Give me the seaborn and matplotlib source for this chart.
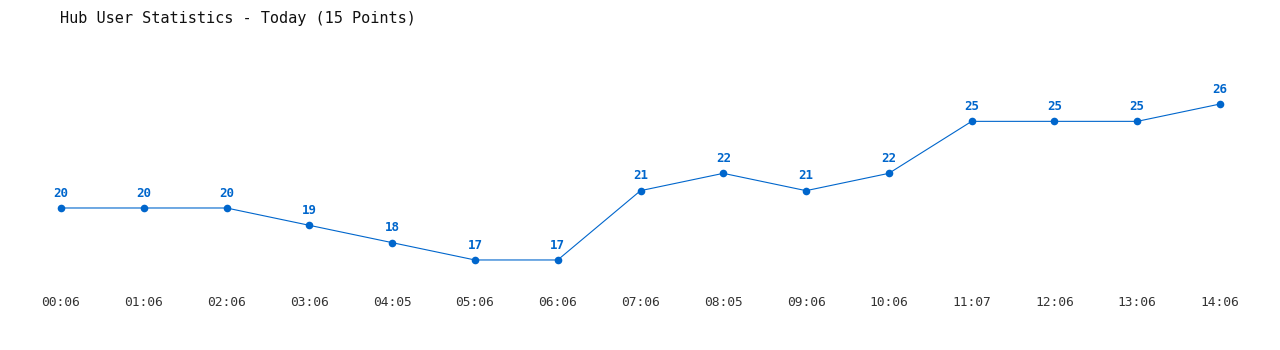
import matplotlib
matplotlib.use("Agg")
import matplotlib.pyplot as plt
import seaborn as sns
import pandas as pd

times = ["00:06", "01:06", "02:06", "03:06", "04:05", "05:06", "06:06",
         "07:06", "08:05", "09:06", "10:06", "11:07", "12:06", "13:06", "14:06"]
users = [20, 20, 20, 19, 18, 17, 17, 21, 22, 21, 22, 25, 25, 25, 26]
title = "Hub User Statistics - Today (15 Points)"

sns.set_theme(style="white")
plt.rcParams['font.family'] = ['DejaVu Sans Mono', 'DejaVu Sans']

color = "#0066cc"
df = pd.DataFrame({"idx": range(len(times)), "users": users})

fig = plt.figure(figsize=(12.8, 3.5), dpi=100)
ax = fig.add_axes([61/1280, 1-277.3/350, (1220-61)/1280, (277.3-86.7)/350])
sns.lineplot(data=df, x="idx", y="users", ax=ax, color=color, linewidth=0.8,
             marker="o", markersize=5.5, markeredgewidth=0, clip_on=False)
for i, v in enumerate(users):
    ax.annotate(str(v), (i, v), xytext=(0, 6), textcoords="offset points",
                ha="center", va="bottom", color=color, fontsize=9,
                fontweight="bold")
ax.set_xlim(0, 14)
ax.set_ylim(16, 27)
ax.set_xticks(range(len(times)))
ax.set_xticklabels(times, fontsize=9.3, color="#333333")
ax.tick_params(axis="x", length=0, pad=13.5)
ax.set_yticks([])
ax.set_xlabel("")
ax.set_ylabel("")
for s in ax.spines.values():
    s.set_visible(False)
fig.text(60/1280, 1-18/350, title, ha="left", va="center", fontsize=11,
         color="#111111")
fig.savefig("out.png", dpi=100, facecolor="white")
